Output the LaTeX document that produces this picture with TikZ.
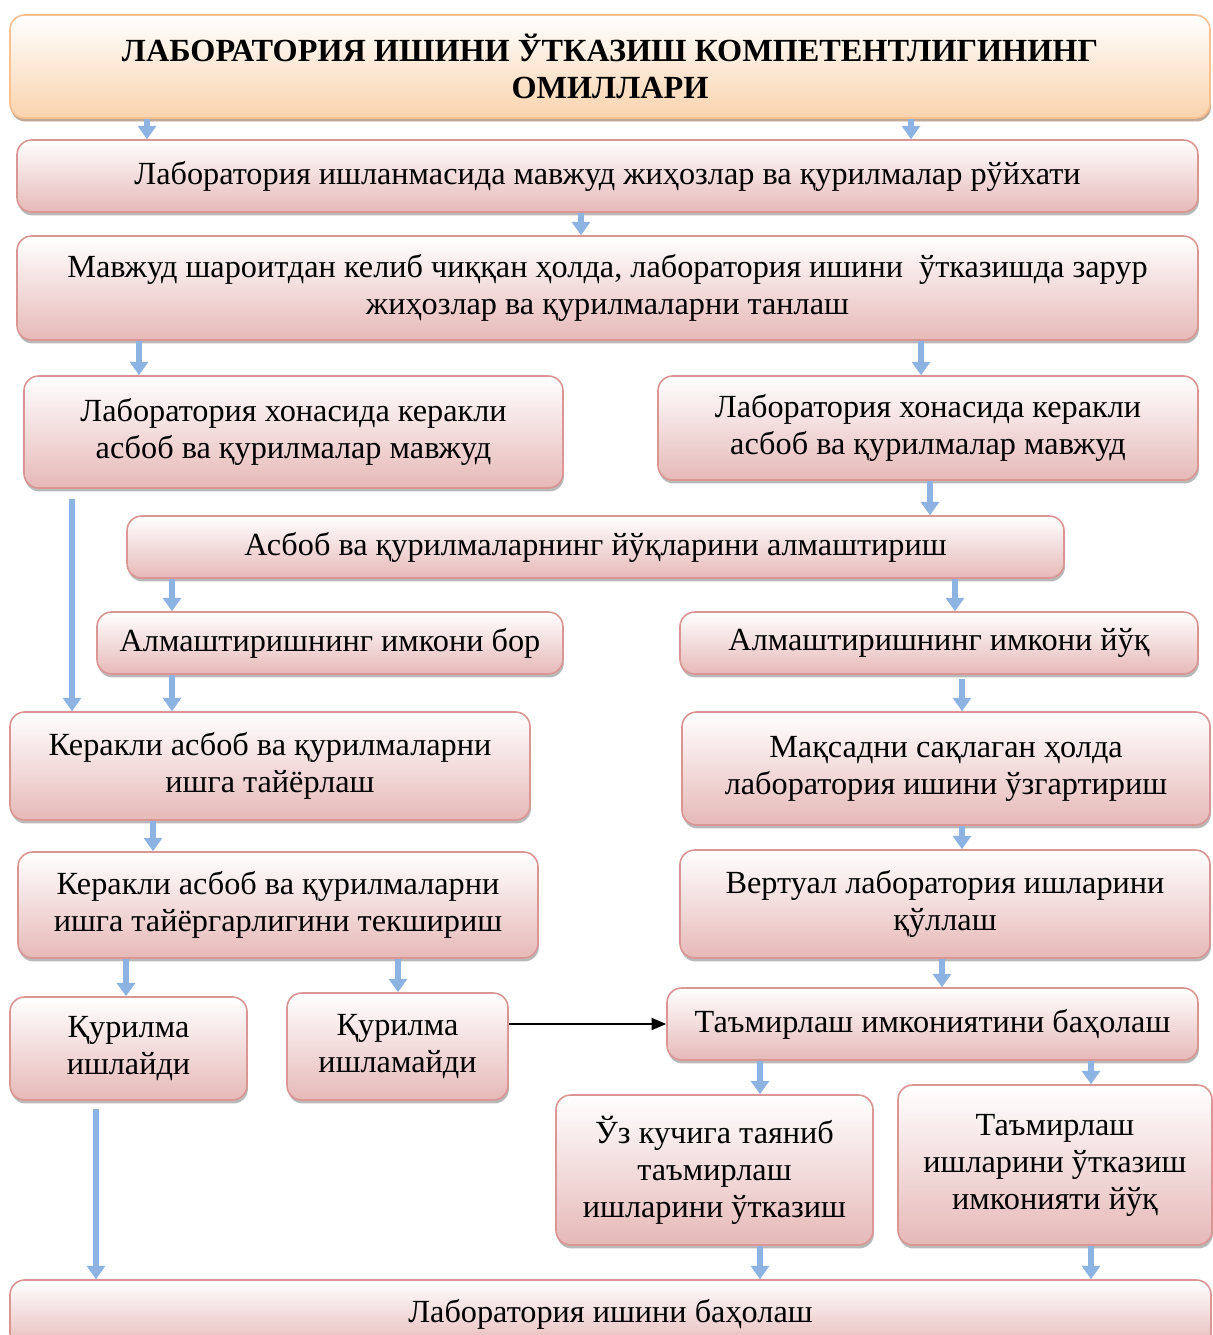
\documentclass[tikz,border=0pt]{standalone}
\usepackage{fontspec}
\setmainfont{Liberation Serif}
\usetikzlibrary{arrows.meta,shadows}
\definecolor{pinkedge}{HTML}{D99694}
\definecolor{pinkbot}{HTML}{E6B9B8}
\definecolor{orangeedge}{HTML}{FAC090}
\definecolor{orangebot}{HTML}{FAD3AD}
\definecolor{arrowblue}{HTML}{8DB3E2}
\tikzset{
  box/.style={draw=pinkedge, line width=1.2pt, rounded corners=11pt,
    top color=white, bottom color=pinkbot,
    drop shadow={shadow xshift=0.7pt, shadow yshift=-2.6pt, fill=black!55, opacity=0.5},
    inner sep=0pt, align=center, font=\fontsize{24.2}{27.75}\selectfont},
  titlebox/.style={box, draw=orangeedge, bottom color=orangebot,
    drop shadow={shadow xshift=0.7pt, shadow yshift=-2.6pt, fill=orangeedge!80!black, opacity=0.5},
    font=\bfseries\fontsize{24.2}{27.75}\selectfont},
  barrow/.style={draw=arrowblue, line width=3.8pt, -{Triangle[width=13.5pt,length=10pt]}},
  karrow/.style={draw=black, line width=1.4pt, -{Triangle[width=9pt,length=11pt]}}
}
\newcommand\mkbox[7][box]{\node[#1, minimum width={(#5-#3)*0.75pt}, minimum height={(#6-#4)*0.75pt}] (#2) at ({(#3+#5)/2},{(#4+#6)/2}) {#7};}
\begin{document}
\begin{tikzpicture}[x=0.75pt,y=-0.75pt]
\useasboundingbox (0,0) rectangle (1213,1335);
\begin{scope}
\clip (0,0) rectangle (1213,1335);
\mkbox[titlebox]{title}{10}{15}{1210}{118}{ЛАБОРАТОРИЯ ИШИНИ ЎТКАЗИШ КОМПЕТЕНТЛИГИНИНГ\\ОМИЛЛАРИ}
\mkbox{list}{17}{140}{1198}{212}{Лаборатория ишланмасида мавжуд жиҳозлар ва қурилмалар рўйхати}
\mkbox{choose}{17}{236}{1198}{340}{Мавжуд шароитдан келиб чиққан ҳолда, лаборатория ишини\ \ ўтказишда зарур\\жиҳозлар ва қурилмаларни танлаш}
\mkbox{availL}{24}{376}{563}{488}{Лаборатория хонасида керакли\\асбоб ва қурилмалар мавжуд}
\mkbox{availR}{658}{376}{1198}{480}{Лаборатория хонасида керакли\\асбоб ва қурилмалар мавжуд}
\mkbox{replace}{127}{516}{1064}{578}{Асбоб ва қурилмаларнинг йўқларини алмаштириш}
\mkbox{canL}{97}{612}{563}{674}{Алмаштиришнинг имкони бор}
\mkbox{canR}{680}{612}{1198}{674}{Алмаштиришнинг имкони йўқ}
\mkbox{prep}{10}{712}{530}{820}{Керакли асбоб ва қурилмаларни\\ишга тайёрлаш}
\mkbox{modify}{682}{712}{1210}{825}{Мақсадни сақлаган ҳолда\\лаборатория ишини ўзгартириш}
\mkbox{check}{18}{852}{538}{958}{Керакли асбоб ва қурилмаларни\\ишга тайёргарлигини текшириш}
\mkbox{virtual}{680}{850}{1210}{958}{Вертуал лаборатория ишларини\\қўллаш}
\mkbox{works}{10}{997}{247}{1100}{Қурилма\\ишлайди}
\mkbox{nowork}{287}{993}{508}{1100}{Қурилма\\ишламайди}
\mkbox{repair}{667}{988}{1198}{1060}{Таъмирлаш имкониятини баҳолаш}
\mkbox{self}{556}{1095}{873}{1245}{Ўз кучига таяниб\\таъмирлаш\\ишларини ўтказиш}
\mkbox{norepair}{898}{1085}{1212}{1245}{Таъмирлаш\\ишларини ўтказиш\\имконияти йўқ}
\mkbox{eval}{10}{1280}{1211}{1348}{Лаборатория ишини баҳолаш}
\end{scope}
\foreach \xx in {72,96,126,139,147,153,172,398,581,760,911,921,930,942,955,962,1091}
  \coordinate (x\xx) at (\xx,0);
\draw[barrow] (title.south -| x147) -- (list.north -| x147);
\draw[barrow] (title.south -| x911) -- (list.north -| x911);
\draw[barrow] (list.south -| x581) -- (choose.north -| x581);
\draw[barrow] (choose.south -| x139) -- (availL.north -| x139);
\draw[barrow] (choose.south -| x921) -- (availR.north -| x921);
\draw[barrow] (availR.south -| x930) -- (replace.north -| x930);
\draw[barrow, shorten <=7.5pt] (availL.south -| x72) -- (prep.north -| x72);
\draw[barrow] (replace.south -| x172) -- (canL.north -| x172);
\draw[barrow] (replace.south -| x955) -- (canR.north -| x955);
\draw[barrow] (canL.south -| x172) -- (prep.north -| x172);
\draw[barrow, shorten <=3pt] (canR.south -| x962) -- (modify.north -| x962);
\draw[barrow] (prep.south -| x153) -- (check.north -| x153);
\draw[barrow] (modify.south -| x962) -- (virtual.north -| x962);
\draw[barrow] (check.south -| x126) -- (works.north -| x126);
\draw[barrow] (check.south -| x398) -- (nowork.north -| x398);
\draw[barrow] (virtual.south -| x942) -- (repair.north -| x942);
\draw[barrow] (repair.south -| x760) -- (self.north -| x760);
\draw[barrow] (repair.south -| x1091) -- (norepair.north -| x1091);
\draw[barrow, shorten <=6pt] (works.south -| x96) -- (eval.north -| x96);
\draw[barrow] (self.south -| x760) -- (eval.north -| x760);
\draw[barrow] (norepair.south -| x1091) -- (eval.north -| x1091);
\draw[karrow] (nowork.east |- repair.west) -- (repair.west);
\end{tikzpicture}
\end{document}
